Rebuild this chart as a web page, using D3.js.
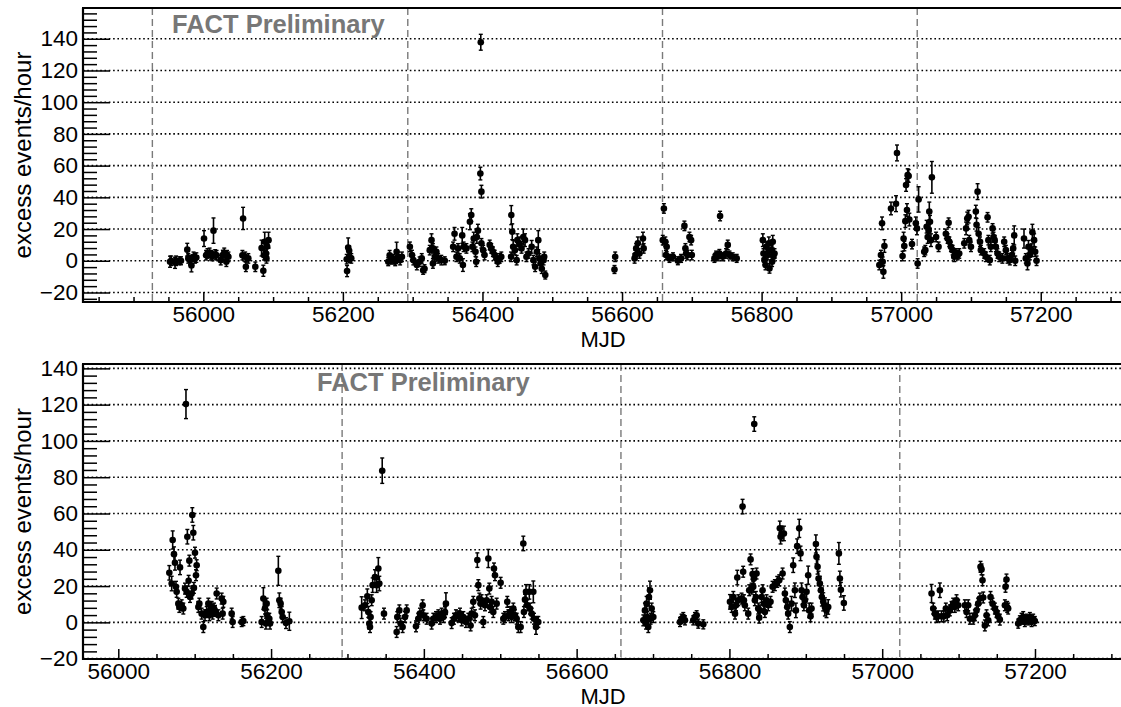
<!DOCTYPE html>
<html><head><meta charset="utf-8">
<script src="https://cdn.jsdelivr.net/npm/d3@7"></script>
<style>
body{margin:0;background:#fff}
svg{display:block}
text{font-family:"Liberation Sans",Arial,Helvetica,sans-serif}
</style>
</head><body>
<svg id="c" width="1121" height="707"></svg>
<script>
// ---- data: [MJD, excess events/hour, error] ----
const topData = [
[55952.3,-0.6,3.5],[55954,0,3],[55959.5,-1.3,3.5],[55961,0,3],[55965.5,0,2.5],[55968,0,2.5],
[55977,7,4],[55978.5,1.5,3],[55981,0.5,3],[55983,-3,4],[55986,2.5,3],[55988,1.5,3],[55990,2,3],
[56001,14,5],[56004,3.5,3],[56006,4.6,3],[56009,5,3],[56011,3.5,3],[56013,3,3],[56014.6,19,8],[56017,4,3],[56019,3.5,3],[56025,0.4,3],[56028,3.6,3],[56030,5,3],[56032.5,3,3],[56033,-0.6,3],[56034,3.5,3],[56036,2.5,3],
[56056,3.5,3],[56057,26.7,7],[56060,2.5,3],[56061,-3.8,3],[56064.5,1.5,3],[56074.5,-3.8,3],
[56083.5,8,5],[56086,-6.3,3.5],[56087,3.5,3],[56088,12,6],[56090,4.6,3],[56090.5,1.5,3],[56091.5,9,4],[56093.5,13,5],
[56205.5,1,3],[56206,-6.5,3.5],[56207.6,8.4,6],[56209,6.3,3],[56210,2,3],[56212,1.5,3],
[56265,-0.6,2.5],[56267,3.5,3],[56270,0.4,2.5],[56272,1.5,2.5],[56275,-0.6,2.5],[56277,5.7,6],[56279,2.5,3],[56282,0.4,3],[56284.6,2.5,3],
[56296,8.8,3],[56299,3.6,3],[56301,0.4,3],[56306,-2.7,3],
[56310,-0.6,3],[56313,1.5,3],[56315,-6,2.5],[56317,-5,2.5],[56324.5,6.7,3],[56327,13,4],[56329,7.8,3],[56329,-1.7,3],[56331.7,2.5,3],[56334,5.7,3],[56336.5,1.5,3],[56341,0.4,3],[56346,0,2.5],
[56358,8.8,3],[56360,17,4],[56362.7,2.5,3],[56365,7.8,3],[56367.5,1.5,3],[56371,16,5],[56372,-2.7,4],[56373,8.8,3],[56377,7.8,3],[56382,24.6,5],[56384,28.8,4],[56385.6,8.8,3],[56387.5,14,4],[56390,5.7,3],[56391,-0.6,3],[56392,15,4],[56393.5,19,4],[56397,55,4],[56397.6,137.8,5],[56398.5,43.6,4],[56398.5,11,3],[56401,6.7,3],[56403,3.6,3],
[56410.4,10,3],[56412.6,7.8,3],[56415,5.7,3],[56417.5,3.6,3],[56420,1.5,3],[56422,-0.6,3],[56424.7,1.5,3],[56427,2.5,3],
[56441,2.5,3],[56441.3,28.8,6],[56442.7,18.3,5],[56444,8.8,4],[56446.5,6.7,3],[56449,0.4,3],[56450,13,4],[56452.7,11,4],[56456,7.8,3],[56458.5,15,5],[56461,13,4],[56463,2.5,3],[56466,4.6,3],[56470.5,8.8,4],[56473,0.4,3],[56475.5,-3.8,3],[56478,5.7,3],[56480,13,6],[56481.5,1.5,3],[56483.5,-1.7,3],[56485,-5,3],[56487.5,0.4,3],[56488.5,2.5,3],[56490,-9,2.5],
[56589.2,-5.5,2.5],[56590.2,2.5,3],
[56618,1.5,3],[56619.3,3.6,3],[56620.3,7.8,3],[56622.7,11,4],[56625,4.6,3],[56630,14,4],[56631,7.8,3],
[56658.4,13,3],[56660,33,3],[56662,12,3],[56663,3.6,3],[56664,8.8,3],[56668,1.5,2.5],[56673,2.5,2.5],[56680,0,2.5],[56684.6,1.5,2.5],[56689.4,22,3],[56690.8,7.8,3],[56691.8,4.6,3],[56694,3.6,3],[56696.6,15,3],[56699,13,3],[56700,3.6,3],
[56732.4,1.5,2.5],[56734.8,3.6,2.5],[56737,2.5,2.5],[56739.5,4.6,2.5],[56740.5,28.2,3],[56744.3,2.5,2.5],[56749,4.6,3],[56751.5,10,3],[56754,3.6,2.5],[56758.6,2.5,2.5],[56764.3,1.5,2.5],
[56801.8,13,4],[56802.7,4.6,3],[56804,0.4,3],[56805.6,-2.7,3],[56806.6,8.8,3],[56809,3.6,3],[56810.4,11,4],[56811.3,-4.8,3],[56813.7,6.7,3],[56815,-0.6,3],[56816,12,4],[56817,2.5,3],[56818.5,4.6,3],
[56968.7,-2.7,3],[56971,3.6,3],[56972.6,23.6,4],[56973.5,-0.6,3],[56974.5,-7,4],[56976,9.3,4],[56985.4,33,4],[56992.6,36,5],[56994,68,5],
[57002,3,3],[57003.5,14,4],[57004.5,9.3,3],[57006,25,4],[57007,47.8,4],[57008.3,32,4],[57009.3,54,4],[57010.7,53.5,4],[57011.7,26,4],[57015.5,10.5,3],[57021,23.6,4],[57022.6,20.4,4],[57023.6,-1.7,3],[57025,38.7,8],
[57033,5.7,3],[57034.6,6.7,3],[57036.5,21.5,4],[57038,15,4],[57039.4,19,4],[57040.3,31,6],[57041.3,24.6,4],[57042.7,13,4],[57044,52.6,10],[57050,15,3],[57053.6,8.8,3],
[57064,17,3],[57066.5,14,3],[57068,24,3],[57069,12,3],[57071.3,8.8,3],[57073.7,6.7,3],[57076,2.5,3],[57078.5,4.6,3],[57081,3.6,3],[57083.2,4.6,3],
[57090.4,11,3],[57093,20.4,4],[57094.7,26.7,4],[57096.6,27.8,4],[57097.5,13,3],[57100,8.8,3],[57107,31,4],[57108,22.7,4],[57109.5,43.6,5],[57111,17,4],[57113,12,3],[57114.2,6.7,3],
[57119,4.6,3],[57121.4,2.5,3],[57123.8,27.4,3],[57125,13,3],[57127,0.4,3],[57128.5,8.8,3],[57131,20.4,3],[57132.3,15,3],[57134,13,3],[57135.7,8.8,3],[57138,4.6,3],[57140.5,2.5,3],
[57145,1.5,3],[57147.6,12,3],[57150,6.7,3],[57152.4,1.5,3],[57155.7,0.4,3],[57158.6,3.6,3],[57160.5,7.8,3],[57162,16,6],[57163.4,0,3],
[57176,14,6],[57178.6,1.5,3],[57181,-1.7,4],[57182.4,8.8,4],[57184.4,3.6,3],[57187,6.7,4],[57188,18,5],[57190.5,13,4],[57192,5.7,3],[57194,0,3]
];

const bottomData = [
[56066.8,27.3,4],[56069.9,21.4,4],[56071.2,45.4,5],[56072.9,37.6,4],[56074.2,32.8,4],[56075.5,19.6,3],[56076.4,16.8,3],[56078.6,10.3,3],[56079.9,8.5,3],[56080.8,30.3,4],[56083,9.4,3],[56085.1,7.6,3],[56087.3,18.6,3],[56088.6,120.3,8],[56089.5,16.8,3],[56090.4,47.2,4],[56092.1,22.9,3],[56093,34,3],[56093.9,14,3],[56096,15.9,3],[56096.9,59.2,4],[56098.2,49.4,4],[56099,19,3],[56100.4,38.4,3],[56101.7,26,3],[56102.6,31.5,3],
[56104.8,8.5,3],[56106.1,10.3,3],[56109.1,4.8,3],[56111.3,-2.6,3],[56113.5,3.9,3],[56115.7,5.7,3],[56117.9,10.3,3],[56119.2,3.9,3],[56120.9,6.6,3],[56122.2,8.5,3],[56123.5,4.8,3],[56125.3,7.6,3],[56126.6,6.3,3],[56128.8,15.9,3],[56131,3.9,3],[56135.3,13.1,3],[56136.6,4.8,3],[56137.5,11.3,3],[56148.4,4.8,3],[56149.7,0.2,3],[56161.5,0.2,2.5],[56163.7,0.7,2.5],
[56187.7,0.2,3],[56189.9,13.1,6],[56192,7.6,3],[56193.3,-0.7,3],[56194.2,10.3,3],[56195,3.9,3],[56197.7,2,3],[56198.6,-0.7,3],[56209.5,28.4,8],[56210.8,12.2,4],[56212.5,10.3,3],[56213.9,5.7,3],[56215.2,2.9,3],[56219.5,-0.4,3],[56223.9,0.6,5],
[56318.6,8.1,6],[56322.9,9.4,3],[56326,14.4,4],[56327.3,5.7,3],[56328.6,-0.7,3],[56329.5,-2.6,3],[56330.3,2.9,3],[56331.7,12.2,3],[56333,20.5,4],[56336,25,4],[56338.2,20.5,4],[56340.4,29.7,6],[56341.7,21.4,4],[56345.5,83.6,7],[56347.8,4.8,3],
[56364.4,-5.3,3],[56365.2,2.9,3],[56367.9,6.6,3],[56369.6,-0.7,3],[56372.2,-2.6,3],[56375.3,2.9,3],[56377.5,6.6,3],[56389.7,-2.2,3],[56392.7,2,3],[56394.9,4.8,3],[56398.4,9.4,3],[56399.3,3.9,3],[56403.6,2,3],
[56410.2,-0.7,3],[56412.4,2,3],[56415.9,2.9,3],[56418.9,3.9,3],[56421.1,2,3],[56423.3,4.8,3],[56425.5,2.9,3],[56427.7,5.7,3],[56428.9,10.3,6],
[56436.4,-0.4,3],[56439.4,2,3],[56442,3.9,3],[56445.1,3.3,3],[56447.3,4.8,3],[56449.5,1.1,3],[56451.7,2.9,3],[56455.1,0.2,3],[56458.2,2,3],[56461.2,-1.7,3],[56462.6,4.8,3],[56464.7,11.3,3],[56466.9,3.9,3],
[56470,34.3,4],[56471.3,20.5,3],[56472.6,13.1,3],[56474.3,10.3,3],[56475.6,12.2,3],[56477.8,0.2,3],[56480,9.4,3],[56482.2,12.2,3],[56484.4,35.2,5],[56485.7,18.6,3],[56486.6,8.5,3],[56488.7,11.3,3],[56490.9,5.7,3],[56491.8,29.7,3],[56493.1,26,3],[56495.3,10.3,3],[56500.5,21.8,3],
[56504,2,3],[56506.2,2.9,3],[56509.2,11.3,3],[56510.6,3.9,3],[56512.7,5.7,3],[56514.9,2.9,3],[56517.1,7.6,3],[56519.3,3.9,3],[56521.5,2,3],[56523.6,-2.6,3],[56526.7,-2.6,3],
[56530.2,43.5,4],[56531,5.7,3],[56532.4,12.5,3],[56533.7,16.8,4],[56535.4,9.4,3],[56538,16.8,4],[56538.9,7.6,3],[56541.1,4.8,3],[56543.3,16.8,6],[56544.2,2,3],[56546.8,-2.6,4],[56548.5,0.2,3],[56549.8,0.2,3],
[56687.3,1.1,3],[56689.4,6.6,4],[56690.8,-0.7,3],[56691.6,10.3,4],[56692.5,2.9,3],[56693.8,-2.6,3],[56694.7,14,5],[56696,17.7,5],[56696.8,2,3],[56698.2,7.6,3],[56700.4,2.9,3],
[56735.3,0.2,2.5],[56737.4,2,2.5],[56739.6,2.9,2.5],[56741.8,1.1,2.5],[56752.7,1.1,2.5],[56754.9,2.9,2.5],[56757.1,3.9,2.5],[56759.2,-0.7,2.5],[56765.8,-1.1,2.5],
[56800.7,11.3,4],[56802.9,8.5,3],[56805.1,14,3],[56807.3,4.8,3],[56808.6,9.4,3],[56810.3,24.7,4],[56811.6,12.2,3],
[56815.9,13.1,3],[56817.2,63.8,4],[56818,27.9,3],[56819,12.2,3],[56820.2,9.4,3],[56824.6,4.8,3],[56825.9,17.7,3],[56827.7,34.7,3],[56829,18.6,3],[56830.3,26.6,3],[56831.2,19.6,3],[56832,24.2,3],[56832.5,109.3,4],[56833.3,12.2,3],[56834.6,14,3],[56835.5,26.9,3],[56837.7,7.6,3],[56839,2.6,3],[56839.9,6.6,3],
[56842.1,14,3],[56843.4,17.7,3],[56845.1,10.3,3],[56846.4,5.7,3],[56848.6,12.2,3],[56850.8,9.4,3],[56853.8,11.3,3],[56856.5,19.6,3],[56859.5,20.5,3],[56862.6,22.3,3],[56865.2,23.2,3],
[56866,51.8,4],[56867,47.2,4],[56868.2,49,4],[56869.6,26.9,3],[56871.3,49,4],[56872.6,15.9,3],[56873.9,12.2,4],[56875.7,8.5,3],[56876.9,4.8,3],[56879.1,-2.6,3],[56881.3,10.3,4],[56883.5,31.5,4],[56885.7,17.7,4],[56887,6.6,4],[56888.7,42,4],[56891.4,51.8,5],[56893.1,38,4],[56894.4,17.7,4],[56895.7,14,4],[56897.5,9.4,3],[56898.8,12.2,4],[56901,16.8,4],[56903.1,26,5],[56904.4,6.6,4],[56906.2,3.3,3],[56907.5,7.6,3],
[56913.2,43.2,5],[56914,36.2,4],[56915.4,30.6,4],[56916.7,24.2,4],[56918.4,21.4,4],[56919.7,17.7,4],[56921,14,5],[56922.8,11.3,5],[56925,8.5,5],[56927.1,6.6,4],[56929.3,8.5,4],
[56943.3,38,6],[56944.6,24.2,4],[56945.9,18,4],[56949.8,10.7,4],
[57064.6,15.9,5],[57066.8,7.6,3],[57069,4.8,3],[57071.1,2.9,3],[57073.3,3.3,3],[57075.5,17.7,4],[57077.7,3.3,3],[57080.7,3.3,3],[57083.3,7.6,3],[57085.1,3.9,3],[57088.6,6.6,3],[57090.7,8.5,3],[57092.9,10.3,3],[57095.1,8.5,3],[57097.3,12.2,3],[57099.5,9.4,3],
[57108.2,9.4,3],[57110.4,5.7,3],[57112.6,9.4,3],[57114.8,2,3],[57119.1,2,3],[57121.3,3.9,3],[57123.5,6.6,3],[57125.7,10.3,3],[57127.9,13.1,3],[57128.7,30.6,3],[57130,29.2,3],[57131.3,23.2,3],[57132.2,13.7,3],[57134.4,-1.7,3],[57136.6,3.9,3],[57138.8,1.1,3],
[57141.8,14,3],[57144.4,10.3,3],[57147.5,7.6,3],[57149.6,5.7,3],[57151.8,3.3,3],[57154,1.5,3],[57160.6,9.4,3],[57161.4,19.6,3],[57162.7,23.6,3],[57163.6,8.5,3],[57164.9,7.6,3],
[57178,-0.7,2.5],[57180.2,1.1,2.5],[57182.4,2,3],[57184.6,2.9,3],[57186.7,0.2,2.5],[57188.9,2,2.5],[57191.1,1.1,2.5],[57193.3,2.9,2.5],[57195.5,0.2,2.5],[57197.6,2,2.5],[57199.8,0.7,2.5]
];

const yearBoundaries = [55927, 56293, 56658, 57023];
const xMajorTicks = [56000, 56200, 56400, 56600, 56800, 57000, 57200];
const yMajorTicks = [-20, 0, 20, 40, 60, 80, 100, 120, 140];
const yTitle = "excess events/hour";
const xTitle = "MJD";
const watermark = "FACT Preliminary";

// ---- layout ----
const L = 83, R = 1121;
const panels = [
  {data: topData, xDomain: [55827.6, 57315], yDomain: [-26, 159.4], top: 8, bottom: 302, wm: [172, 33], xTitleY: 347},
  {data: bottomData, xDomain: [55953.8, 57312.6], yDomain: [-20.2, 142.4], top: 364, bottom: 659, wm: [317, 391], xTitleY: 703.5}
];

const svg = d3.select("#c");
const font = '"Liberation Sans",Arial,Helvetica,sans-serif';

panels.forEach((p, i) => {
  const x = d3.scaleLinear().domain(p.xDomain).range([L, R]);
  const y = d3.scaleLinear().domain(p.yDomain).range([p.bottom, p.top]);
  const g = svg.append("g");
  const clipId = "clip" + i;
  svg.append("clipPath").attr("id", clipId).append("rect")
    .attr("x", L).attr("y", p.top).attr("width", R - L).attr("height", p.bottom - p.top);

  // grid (dotted) at major y ticks
  g.append("g").selectAll("line").data(yMajorTicks.filter(v => v > p.yDomain[0] && v < p.yDomain[1]))
    .join("line")
    .attr("x1", L).attr("x2", R).attr("y1", d => y(d)).attr("y2", d => y(d))
    .attr("stroke", "#000").attr("stroke-width", 1.6).attr("stroke-dasharray", "1.6,2.7");

  // year boundaries (dashed)
  g.append("g").selectAll("line").data(yearBoundaries.filter(v => v > p.xDomain[0] && v < p.xDomain[1]))
    .join("line")
    .attr("x1", d => x(d)).attr("x2", d => x(d)).attr("y1", p.top).attr("y2", p.bottom)
    .attr("stroke", "#7a7a7a").attr("stroke-width", 1.4).attr("stroke-dasharray", "7,4");

  // watermark
  g.append("text").attr("x", p.wm[0]).attr("y", p.wm[1]).text(watermark)
    .attr("font-size", 25.5).attr("font-weight", "bold").attr("fill", "#777");

  // data
  const dg = g.append("g").attr("clip-path", `url(#${clipId})`);
  const pts = dg.selectAll("g.pt").data(p.data).join("g").attr("class", "pt");
  pts.append("line")
    .attr("x1", d => x(d[0])).attr("x2", d => x(d[0]))
    .attr("y1", d => y(d[1] - d[2])).attr("y2", d => y(d[1] + d[2]))
    .attr("stroke", "#000").attr("stroke-width", 1.6);
  pts.append("line")
    .attr("x1", d => x(d[0]) - 2).attr("x2", d => x(d[0]) + 2)
    .attr("y1", d => y(d[1] + d[2])).attr("y2", d => y(d[1] + d[2]))
    .attr("stroke", "#000").attr("stroke-width", 1.4);
  pts.append("line")
    .attr("x1", d => x(d[0]) - 2).attr("x2", d => x(d[0]) + 2)
    .attr("y1", d => y(d[1] - d[2])).attr("y2", d => y(d[1] - d[2]))
    .attr("stroke", "#000").attr("stroke-width", 1.4);
  pts.append("circle")
    .attr("cx", d => x(d[0])).attr("cy", d => y(d[1])).attr("r", 3.3).attr("fill", "#000");

  // y axis majors
  const yAx = g.append("g").attr("transform", `translate(${L},0)`)
    .call(d3.axisLeft(y).tickValues(yMajorTicks.filter(v => v >= p.yDomain[0] && v <= p.yDomain[1]))
      .tickSize(-27).tickPadding(5).tickFormat(d3.format("d")));
  yAx.select(".domain").remove();
  yAx.selectAll("line").attr("stroke-width", 1.5);
  yAx.selectAll("text").attr("font-size", 22.5).attr("font-family", font).attr("fill", "#000");
  // y minors
  const yMinor = d3.range(-40, 200, 4).filter(v => v > p.yDomain[0] && v < p.yDomain[1] && v % 20 !== 0);
  const yMi = g.append("g").attr("transform", `translate(${L},0)`)
    .call(d3.axisLeft(y).tickValues(yMinor).tickSize(-14).tickFormat(""));
  yMi.select(".domain").remove();
  yMi.selectAll("line").attr("stroke-width", 1.5);

  // x axis majors
  const xAx = g.append("g").attr("transform", `translate(0,${p.bottom})`)
    .call(d3.axisBottom(x).tickValues(xMajorTicks).tickSize(-10).tickPadding(4.5).tickFormat(d3.format("d")));
  xAx.select(".domain").remove();
  xAx.selectAll("line").attr("stroke-width", 1.5);
  xAx.selectAll("text").attr("font-size", 22.5).attr("font-family", font).attr("fill", "#000");
  const xMinor = d3.range(55800, 57400, 50).filter(v => v > p.xDomain[0] && v < p.xDomain[1] && v % 200 !== 0);
  const xMi = g.append("g").attr("transform", `translate(0,${p.bottom})`)
    .call(d3.axisBottom(x).tickValues(xMinor).tickSize(-5).tickFormat(""));
  xMi.select(".domain").remove();
  xMi.selectAll("line").attr("stroke-width", 1.5);

  // frame lines
  g.append("line").attr("x1", L).attr("x2", L).attr("y1", p.top).attr("y2", p.bottom + 1)
    .attr("stroke", "#000").attr("stroke-width", 2.2);
  g.append("line").attr("x1", L - 1).attr("x2", R).attr("y1", p.bottom).attr("y2", p.bottom)
    .attr("stroke", "#000").attr("stroke-width", 2.2);
  g.append("line").attr("x1", L - 1).attr("x2", R).attr("y1", p.top).attr("y2", p.top)
    .attr("stroke", "#000").attr("stroke-width", 1.8);

  // titles
  g.append("text").attr("transform", `translate(31,${(p.top + p.bottom) / 2}) rotate(-90)`)
    .attr("text-anchor", "middle").attr("font-size", 24).text(yTitle);
  g.append("text").attr("x", 603).attr("y", p.xTitleY).attr("text-anchor", "middle")
    .attr("font-size", 22).text(xTitle);
});
</script>
</body></html>
